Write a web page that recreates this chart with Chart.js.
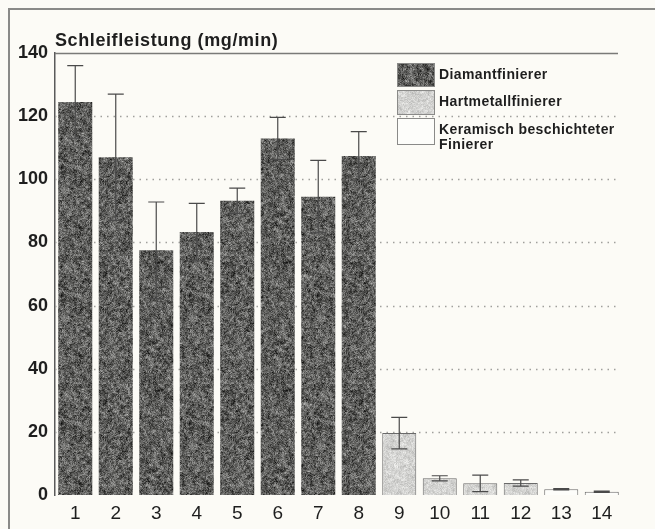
<!DOCTYPE html>
<html>
<head>
<meta charset="utf-8">
<script src="https://cdn.jsdelivr.net/npm/chart.js@4/dist/chart.umd.min.js"></script>
<style>
  html, body { margin: 0; padding: 0; background: #fcfbf6; }
  #wrap { position: relative; width: 655px; height: 529px; }
  canvas { display: block; }
</style>
</head>
<body>
<div id="wrap"><canvas id="c" width="655" height="529"></canvas></div>
<script>
// Schleifleistung je Finierer (Mittelwert und Streuung)
const categories = ['1','2','3','4','5','6','7','8','9','10','11','12','13','14'];
const diamant    = [124.5, 107, 77.5, 83.3, 93.2, 112.9, 94.5, 107.4, null, null, null, null, null, null];
const hartmetall = [null, null, null, null, null, null, null, null, 19.6, 5.3, 3.7, 3.8, null, null];
const keramisch  = [null, null, null, null, null, null, null, null, null, null, null, null, 1.8, 1.0];
const streuung   = [11.5, 20, 15.3, 9.1, 4, 6.7, 11.5, 7.7, 5, 0.8, 2.6, 1, 0.2, 0.2];
const yTicks     = [0, 20, 40, 60, 80, 100, 120, 140];
const seriesNames = ['Diamantfinierer', 'Hartmetallfinierer', ['Keramisch beschichteter', 'Finierer']];

// deterministic, soft grain texture for the bar fills
function grain(base, coarse, fine, seed) {
  let s = seed;
  const rnd = () => { s = (s * 1103515245 + 12345) & 0x7fffffff; return s / 0x7fffffff; };
  function noise(n, spread, alpha) {
    const cv = document.createElement('canvas');
    cv.width = n; cv.height = n;
    const g = cv.getContext('2d');
    const img = g.createImageData(n, n);
    for (let i = 0; i < n * n; i++) {
      const v = Math.max(0, Math.min(255, base + (rnd() + rnd() - 1) * spread));
      img.data[i * 4] = v; img.data[i * 4 + 1] = v; img.data[i * 4 + 2] = v - 2; img.data[i * 4 + 3] = alpha;
    }
    g.putImageData(img, 0, 0);
    return cv;
  }
  const N = 128;
  const out = document.createElement('canvas');
  out.width = N; out.height = N;
  const o = out.getContext('2d');
  o.imageSmoothingEnabled = true;
  o.drawImage(noise(N / 2, coarse, 255), 0, 0, N, N);
  o.drawImage(noise(N, fine, 110), 0, 0);
  return o.createPattern(out, 'repeat');
}
const ctx0 = document.getElementById('c').getContext('2d');
const darkFill  = grain(96, 110, 120, 7);
const lightFill = grain(212, 40, 50, 13);
const whiteFill = '#fdfdfa';

const FONT = '"Liberation Sans", Arial, Helvetica, sans-serif';

const framePlugin = {
  id: 'frame',
  beforeDraw(chart) {
    const c = chart.ctx;
    c.save();
    c.fillStyle = '#fcfbf6';
    c.fillRect(0, 0, chart.width, chart.height);
    c.strokeStyle = '#8a8a88';
    c.lineWidth = 2;
    c.beginPath();
    c.moveTo(9, chart.height); c.lineTo(9, 9); c.lineTo(chart.width, 9);
    c.stroke();
    c.restore();
  },
  beforeDatasetsDraw(chart) {
    const c = chart.ctx, y = chart.scales.y, a = chart.chartArea;
    c.save();
    yTicks.forEach(v => {
      const py = Math.round(y.getPixelForValue(v)) + 0.5;
      c.beginPath();
      if (v === 140) {
        c.setLineDash([]);
        c.strokeStyle = '#7a7a78';
        c.lineWidth = 1.5;
        c.moveTo(a.left, py); c.lineTo(a.right - 4, py);
      } else if (v > 0) {
        c.setLineDash([1.5, 5]);
        c.strokeStyle = '#a0a09c';
        c.lineWidth = 1.5;
        c.moveTo(a.left, py); c.lineTo(a.right - 2, py);
      }
      c.stroke();
    });
    c.restore();
  },
  afterDatasetsDraw(chart) {
    const c = chart.ctx, y = chart.scales.y;
    c.save();
    c.strokeStyle = '#4a4a4a';
    c.lineWidth = 1.2;
    chart.data.datasets.forEach((ds, di) => {
      const meta = chart.getDatasetMeta(di);
      ds.data.forEach((v, i) => {
        if (v === null) return;
        const x = meta.data[i].x;
        const e = streuung[i];
        const top = y.getPixelForValue(v + e), bot = y.getPixelForValue(v - e);
        const cap = 8;
        c.beginPath();
        c.moveTo(x, top); c.lineTo(x, bot);
        c.moveTo(x - cap, top); c.lineTo(x + cap, top);
        c.moveTo(x - cap, bot); c.lineTo(x + cap, bot);
        c.stroke();
      });
    });
    // title
    c.fillStyle = '#1e1e1e';
    c.font = 'bold 18px ' + FONT;
    c.letterSpacing = '0.6px';
    c.textAlign = 'left';
    c.textBaseline = 'alphabetic';
    c.fillText('Schleifleistung (mg/min)', 55, 46);
    // legend
    const fills = [darkFill, lightFill, whiteFill];
    const boxes = [[397, 63, 38, 24], [397, 90, 38, 25], [397, 118, 38, 27]];
    c.font = 'bold 14px ' + FONT;
    c.letterSpacing = '0.4px';
    boxes.forEach((b, i) => {
      c.fillStyle = fills[i];
      c.fillRect(b[0], b[1], b[2], b[3]);
      c.strokeStyle = '#8a8a88';
      c.lineWidth = 1;
      c.strokeRect(b[0] + 0.5, b[1] + 0.5, b[2] - 1, b[3] - 1);
      c.fillStyle = '#1e1e1e';
      const lines = Array.isArray(seriesNames[i]) ? seriesNames[i] : [seriesNames[i]];
      lines.forEach((t, k) => c.fillText(t, 439, b[1] + 16 + k * 15));
    });
    c.restore();
  }
};

new Chart(ctx0, {
  type: 'bar',
  data: {
    labels: categories,
    datasets: [
      { label: seriesNames[0], data: diamant, backgroundColor: darkFill, borderColor: '#6a6a6a', borderWidth: 0, grouped: false, barPercentage: 0.84, categoryPercentage: 1 },
      { label: seriesNames[1], data: hartmetall, backgroundColor: lightFill, borderColor: '#6a6a6a', borderWidth: 1, grouped: false, barPercentage: 0.84, categoryPercentage: 1 },
      { label: seriesNames[2].join(' '), data: keramisch, backgroundColor: whiteFill, borderColor: '#6a6a6a', borderWidth: 1, grouped: false, barPercentage: 0.84, categoryPercentage: 1 }
    ]
  },
  options: {
    responsive: false,
    animation: false,
    layout: { padding: { top: 53, right: 33, left: 0, bottom: 0 } },
    plugins: { legend: { display: false }, tooltip: { enabled: false }, title: { display: false } },
    scales: {
      x: {
        grid: { display: false, drawTicks: false },
        border: { display: false },
        ticks: { color: '#1e1e1e', font: { family: FONT, size: 19 }, padding: 7 },
        afterFit(s) { s.height = 34; }
      },
      y: {
        min: 0, max: 140,
        afterBuildTicks(s) { s.ticks = yTicks.map(v => ({ value: v })); },
        grid: { display: false, drawTicks: false },
        border: { display: true, color: '#5a5a5a', width: 1.5 },
        ticks: { color: '#1e1e1e', font: { family: FONT, size: 18, weight: 'bold' }, padding: 7 },
        afterFit(s) { s.width = 55; }
      }
    }
  },
  plugins: [framePlugin]
});
</script>
</body>
</html>
